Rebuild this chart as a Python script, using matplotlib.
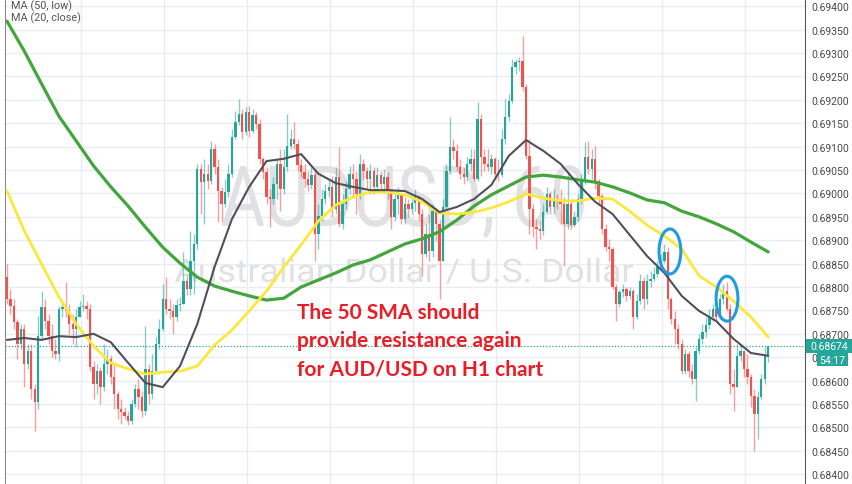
import numpy as np
import matplotlib
matplotlib.use("Agg")
import matplotlib.pyplot as plt
from matplotlib.patches import Ellipse, Rectangle, PathPatch
from matplotlib.textpath import TextPath
from matplotlib.font_manager import FontProperties
from matplotlib.transforms import Affine2D

# ---------------- data (AUD/USD, H1) ----------------
first_open = 0.68821
close = [0.68774, 0.68759, 0.68725, 0.68678, 0.68710, 0.68635, 0.68663, 0.68582, 0.68554, 0.68695,
         0.68757, 0.68727, 0.68695, 0.68663, 0.68657, 0.68753, 0.68757, 0.68749, 0.68721, 0.68710,
         0.68736, 0.68757, 0.68759, 0.68753, 0.68629, 0.68593, 0.68620, 0.68586, 0.68635, 0.68646,
         0.68608, 0.68571, 0.68539, 0.68533, 0.68524, 0.68514, 0.68550, 0.68582, 0.68565, 0.68535,
         0.68625, 0.68571, 0.68620, 0.68678, 0.68710, 0.68774, 0.68753, 0.68749, 0.68736, 0.68762,
         0.68764, 0.68813, 0.68796, 0.68856, 0.68892, 0.69052, 0.69024, 0.69042, 0.69027, 0.69095,
         0.69056, 0.69005, 0.68977, 0.69003, 0.69042, 0.69121, 0.69153, 0.69170, 0.69131, 0.69174,
         0.69133, 0.69168, 0.69148, 0.69074, 0.69046, 0.68992, 0.68988, 0.69020, 0.69063, 0.69009,
         0.69056, 0.69101, 0.69116, 0.69106, 0.69061, 0.69046, 0.69031, 0.69018, 0.69039, 0.68913,
         0.68952, 0.68988, 0.69005, 0.69014, 0.68967, 0.69035, 0.68935, 0.68977, 0.69009, 0.69042,
         0.69031, 0.68999, 0.69063, 0.69048, 0.69031, 0.69048, 0.69014, 0.69039, 0.69020, 0.69035,
         0.69003, 0.68950, 0.68988, 0.68997, 0.68945, 0.68977, 0.68967, 0.68980, 0.68992, 0.68956,
         0.68871, 0.68913, 0.68877, 0.68962, 0.68935, 0.68856, 0.68971, 0.69048, 0.69099, 0.69091,
         0.69056, 0.69042, 0.69035, 0.69063, 0.69074, 0.69031, 0.69159, 0.69078, 0.69063, 0.69056,
         0.69074, 0.69042, 0.69039, 0.69116, 0.69163, 0.69197, 0.69270, 0.69281, 0.69283, 0.69227,
         0.69080, 0.68967, 0.68928, 0.68924, 0.68920, 0.68960, 0.68999, 0.68971, 0.68988, 0.68984,
         0.68977, 0.68935, 0.68977, 0.68932, 0.68950, 0.68988, 0.69031, 0.69078, 0.69052, 0.69074,
         0.69027, 0.68994, 0.68924, 0.68885, 0.68881, 0.68800, 0.68764, 0.68789, 0.68796, 0.68781,
         0.68791, 0.68736, 0.68770, 0.68813, 0.68774, 0.68813, 0.68817, 0.68828, 0.68843, 0.68856,
         0.68875, 0.68774, 0.68732, 0.68710, 0.68678, 0.68620, 0.68657, 0.68620, 0.68603, 0.68663,
         0.68689, 0.68704, 0.68719, 0.68736, 0.68753, 0.68736, 0.68774, 0.68791, 0.68753, 0.68593,
         0.68586, 0.68653, 0.68663, 0.68625, 0.68608, 0.68567, 0.68529, 0.68565, 0.68603, 0.68653,
         0.68674]
high = [0.68849, 0.68796, 0.68774, 0.68732, 0.68721, 0.68721, 0.68678, 0.68678, 0.68593, 0.68738,
        0.68791, 0.68774, 0.68742, 0.68721, 0.68689, 0.68759, 0.68770, 0.68811, 0.68764, 0.68742,
        0.68753, 0.68770, 0.68785, 0.68770, 0.68764, 0.68642, 0.68635, 0.68629, 0.68678, 0.68668,
        0.68655, 0.68635, 0.68578, 0.68561, 0.68544, 0.68535, 0.68561, 0.68593, 0.68603, 0.68578,
        0.68717, 0.68635, 0.68657, 0.68693, 0.68732, 0.68806, 0.68821, 0.68774, 0.68764, 0.68774,
        0.68779, 0.68875, 0.68826, 0.68920, 0.68913, 0.69063, 0.69063, 0.69074, 0.69063, 0.69112,
        0.69106, 0.69074, 0.69014, 0.69031, 0.69063, 0.69138, 0.69176, 0.69202, 0.69180, 0.69185,
        0.69187, 0.69180, 0.69174, 0.69159, 0.69078, 0.69056, 0.69009, 0.69035, 0.69074, 0.69095,
        0.69095, 0.69170, 0.69138, 0.69153, 0.69116, 0.69074, 0.69063, 0.69048, 0.69056, 0.69052,
        0.68977, 0.69009, 0.69020, 0.69031, 0.69037, 0.69056, 0.69099, 0.68999, 0.69027, 0.69059,
        0.69063, 0.69048, 0.69084, 0.69074, 0.69056, 0.69063, 0.69056, 0.69056, 0.69048, 0.69052,
        0.69046, 0.69009, 0.68999, 0.69014, 0.68999, 0.68992, 0.68988, 0.68997, 0.69009, 0.68997,
        0.68967, 0.68935, 0.68956, 0.68977, 0.68971, 0.68945, 0.68988, 0.69063, 0.69163, 0.69116,
        0.69106, 0.69074, 0.69056, 0.69078, 0.69095, 0.69095, 0.69195, 0.69170, 0.69095, 0.69095,
        0.69084, 0.69078, 0.69074, 0.69138, 0.69202, 0.69212, 0.69287, 0.69287, 0.69292, 0.69336,
        0.69234, 0.69116, 0.68977, 0.68945, 0.68941, 0.68977, 0.69014, 0.69005, 0.69009, 0.68999,
        0.69009, 0.68992, 0.69046, 0.68988, 0.68962, 0.68999, 0.69042, 0.69110, 0.69112, 0.69095,
        0.69101, 0.69031, 0.68999, 0.68935, 0.68903, 0.68885, 0.68806, 0.68796, 0.68806, 0.68800,
        0.68800, 0.68796, 0.68785, 0.68828, 0.68821, 0.68828, 0.68834, 0.68843, 0.68856, 0.68871,
        0.68892, 0.68885, 0.68779, 0.68749, 0.68721, 0.68689, 0.68668, 0.68663, 0.68635, 0.68672,
        0.68700, 0.68721, 0.68736, 0.68753, 0.68764, 0.68764, 0.68785, 0.68806, 0.68811, 0.68764,
        0.68625, 0.68678, 0.68676, 0.68657, 0.68657, 0.68614, 0.68582, 0.68578, 0.68614, 0.68672,
        0.68674]
low = [0.68764, 0.68742, 0.68710, 0.68646, 0.68668, 0.68586, 0.68625, 0.68561, 0.68492, 0.68539,
       0.68689, 0.68710, 0.68678, 0.68650, 0.68646, 0.68642, 0.68736, 0.68736, 0.68700, 0.68678,
       0.68672, 0.68736, 0.68749, 0.68732, 0.68620, 0.68561, 0.68571, 0.68550, 0.68578, 0.68614,
       0.68593, 0.68539, 0.68518, 0.68507, 0.68518, 0.68505, 0.68507, 0.68544, 0.68539, 0.68522,
       0.68526, 0.68550, 0.68561, 0.68614, 0.68668, 0.68706, 0.68742, 0.68732, 0.68700, 0.68727,
       0.68749, 0.68764, 0.68783, 0.68783, 0.68785, 0.68881, 0.68956, 0.68935, 0.69009, 0.69020,
       0.69042, 0.68939, 0.68939, 0.68971, 0.68992, 0.69035, 0.69116, 0.69146, 0.69116, 0.69125,
       0.69121, 0.69129, 0.69138, 0.69063, 0.69031, 0.68977, 0.68928, 0.68977, 0.68988, 0.68962,
       0.68999, 0.69048, 0.69095, 0.69095, 0.69048, 0.69035, 0.69014, 0.69005, 0.69009, 0.68856,
       0.68881, 0.68941, 0.68977, 0.68992, 0.68950, 0.68956, 0.68928, 0.68924, 0.68967, 0.68999,
       0.68994, 0.68956, 0.68988, 0.69031, 0.69009, 0.68999, 0.68999, 0.69009, 0.69005, 0.69009,
       0.68988, 0.68924, 0.68941, 0.68956, 0.68935, 0.68935, 0.68950, 0.68956, 0.68962, 0.68941,
       0.68824, 0.68864, 0.68856, 0.68864, 0.68898, 0.68774, 0.68856, 0.68967, 0.69042, 0.69074,
       0.69048, 0.69031, 0.69020, 0.69027, 0.69048, 0.69027, 0.69027, 0.69037, 0.69048, 0.69048,
       0.69042, 0.69031, 0.69027, 0.69035, 0.69106, 0.69155, 0.69193, 0.69255, 0.69262, 0.69219,
       0.69074, 0.68913, 0.68907, 0.68881, 0.68903, 0.68911, 0.68956, 0.68956, 0.68956, 0.68967,
       0.68935, 0.68845, 0.68924, 0.68924, 0.68928, 0.68941, 0.68977, 0.69020, 0.69042, 0.69031,
       0.69009, 0.68977, 0.68913, 0.68877, 0.68856, 0.68796, 0.68727, 0.68757, 0.68779, 0.68770,
       0.68774, 0.68710, 0.68732, 0.68764, 0.68753, 0.68764, 0.68800, 0.68813, 0.68821, 0.68838,
       0.68851, 0.68753, 0.68721, 0.68678, 0.68668, 0.68614, 0.68614, 0.68608, 0.68593, 0.68556,
       0.68657, 0.68678, 0.68693, 0.68710, 0.68727, 0.68727, 0.68732, 0.68764, 0.68749, 0.68571,
       0.68535, 0.68586, 0.68642, 0.68608, 0.68593, 0.68544, 0.68450, 0.68475, 0.68561, 0.68593,
       0.68640]

# moving averages read every 5 bars
ma_idx = list(range(0, 221, 5))
ma20_close = [0.68687, 0.68691, 0.68687, 0.68695, 0.68693, 0.68700, 0.68682, 0.68638, 0.68595, 0.68586,
              0.68631, 0.68721, 0.68843, 0.68945, 0.69014, 0.69069, 0.69074, 0.69084, 0.69042, 0.69022,
              0.69014, 0.69007, 0.69007, 0.69005, 0.68988, 0.68960, 0.68971, 0.68988, 0.69018, 0.69080,
              0.69114, 0.69091, 0.69063, 0.69020, 0.68982, 0.68956, 0.68911, 0.68866, 0.68830, 0.68781,
              0.68749, 0.68727, 0.68689, 0.68659, 0.68653]
ma50_low = [0.69005, 0.68920, 0.68849, 0.68779, 0.68721, 0.68674, 0.68638, 0.68625, 0.68614, 0.68618,
            0.68620, 0.68631, 0.68676, 0.68708, 0.68749, 0.68791, 0.68843, 0.68890, 0.68941, 0.68975,
            0.68992, 0.69003, 0.69003, 0.68997, 0.68982, 0.68958, 0.68956, 0.68960, 0.68969, 0.68982,
            0.68999, 0.68990, 0.68984, 0.68984, 0.68990, 0.68988, 0.68962, 0.68932, 0.68909, 0.68881,
            0.68824, 0.68800, 0.68770, 0.68736, 0.68693]
ma100 = [0.69368, 0.69304, 0.69234, 0.69165, 0.69112, 0.69059, 0.69014, 0.68973, 0.68928, 0.68885,
         0.68851, 0.68821, 0.68802, 0.68791, 0.68781, 0.68772, 0.68776, 0.68800, 0.68815, 0.68830,
         0.68847, 0.68858, 0.68875, 0.68892, 0.68903, 0.68918, 0.68943, 0.68973, 0.68997, 0.69016,
         0.69035, 0.69039, 0.69035, 0.69029, 0.69024, 0.69014, 0.69001, 0.68986, 0.68980, 0.68962,
         0.68950, 0.68935, 0.68918, 0.68896, 0.68875]

price_ticks = [0.68400, 0.68450, 0.68500, 0.68550, 0.68600, 0.68650, 0.68700, 0.68750, 0.68800,
               0.68850, 0.68900, 0.68950, 0.69000, 0.69050, 0.69100, 0.69150, 0.69200, 0.69250,
               0.69300, 0.69350, 0.69400]
last_price = 0.68674
countdown = "54:17"
legend_lines = ["MA (50, low)", "MA (20, close)"]
watermark_symbol = "AUDUSD, 60"
watermark_name = "Australian Dollar / U.S. Dollar"
note_lines = ["The 50 SMA should", "provide resistance again", "for AUD/USD on H1 chart"]
# highlighted bars (index of rejection candles, price level)
highlights = [(191.6, 0.68876), (208.1, 0.68775)]

# ---------------- figure ----------------
W, H = 852, 485
fig = plt.figure(figsize=(W / 100, H / 100), dpi=100)
ax = fig.add_axes([5 / W, 0, 800 / W, 1])
ax.set_facecolor("white")

UP, DOWN = "#26a69a", "#ef5350"
n = len(close)
x = np.arange(n)
c = np.array(close)
o = np.array([first_open] + close[:-1])
hi = np.maximum(np.array(high), np.maximum(o, c))
lo = np.minimum(np.array(low), np.minimum(o, c))
up = c >= o
cols = np.where(up, UP, DOWN)

ax.vlines(x, lo, hi, colors=cols, linewidth=1.0, alpha=0.55, zorder=2)
body_bottom = np.minimum(o, c)
body_h = np.maximum(np.abs(c - o), 0.000025)
ax.bar(x, body_h, bottom=body_bottom, width=0.68, color=cols, linewidth=0, zorder=2.2)

ax.plot(ma_idx, ma100, color="#43a53c", lw=2.3, zorder=3, solid_capstyle="round")
ax.plot(ma_idx, ma50_low, color="#fbe83a", lw=2.0, zorder=3.1, solid_capstyle="round")
ax.plot(ma_idx, ma20_close, color="#50505a", lw=1.5, zorder=3.2, solid_capstyle="round")

ax.axhline(last_price, color=UP, lw=0.9, ls=(0, (1, 1.5)), zorder=1.5)

for (ci, cp) in highlights:
    ax.add_patch(Ellipse((ci, cp), 6.3, 0.00096, fill=False, edgecolor="#1e9be2", lw=2.2, zorder=4))

# axes limits: pixel y -> price ; 0.688 at y=288, 46800 px per unit
ax.set_ylim(0.688 - 197 / 46800, 0.688 + 288 / 46800)
ax.set_xlim((5 - 7) / 3.46, (805 - 7) / 3.46)

# grid
ax.set_axisbelow(True)
ax.set_yticks(price_ticks)
ax.set_yticklabels(["%.5f" % p for p in price_ticks])
day_lines = [21.5 + 23.96 * k for k in range(9)]
ax.set_xticks(day_lines)
ax.set_xticklabels([])
ax.grid(True, color="#e7edf2", lw=1.0)
ax.yaxis.tick_right()
ax.tick_params(axis="y", length=0, pad=4.5, labelsize=7.5, labelcolor="#4a4a4a")
for lab in ax.get_yticklabels():
    lab.set_fontfamily("Roboto")
ax.tick_params(axis="x", length=0)
for s in ["top", "bottom"]:
    ax.spines[s].set_visible(False)
ax.spines["right"].set_color("#5a5a5a")
ax.spines["left"].set_color("#8a8a8a")


# watermark drawn as scaled text paths (behind candles)
def fitted_text(s, x0, x1, baseline, cap, family, color, z):
    fp = FontProperties(family=family)
    tp = TextPath((0, 0), s, size=1, prop=fp)
    ext = tp.get_extents()
    caph = TextPath((0, 0), "H", size=1, prop=fp).get_extents().height
    sx = (x1 - x0) / ext.width
    sy = cap / caph
    tr = Affine2D().translate(-ext.x0, 0).scale(sx, sy).translate(x0, H - baseline)
    ax.add_patch(PathPatch(tp, transform=tr, facecolor=color, edgecolor="none", zorder=z, clip_on=False))


fitted_text(watermark_symbol, 222, 584, 227, 60, "Roboto", "#e1e1e3", 0.8)
fitted_text(watermark_name, 175, 633, 283, 23, "Roboto", "#e1e1e3", 0.8)

# legend text
fig.text(11 / W, 1 - 9.5 / H, legend_lines[0], fontsize=7.8, color="#555555", family="Roboto", va="baseline")
fig.text(11 / W, 1 - 21.5 / H, legend_lines[1], fontsize=7.8, color="#555555", family="Roboto", va="baseline")

# annotation
for k, line in enumerate(note_lines):
    fig.text(297 / W, 1 - (319 + 28 * k) / H, line, fontsize=15, color="#ec1c24",
             family="Lato", weight="bold", va="baseline")

# price boxes on the right scale
fig.add_artist(Rectangle((806 / W, 1 - 353.5 / H), 46 / W, 13.5 / H, transform=fig.transFigure,
                         facecolor=UP, edgecolor="none", zorder=5))
fig.text(810 / W, 1 - 347 / H, "%.5f" % last_price, fontsize=7.5, color="white", family="Roboto",
         va="center", zorder=6)
fig.add_artist(Rectangle((817 / W, 1 - 366.5 / H), 31 / W, 12.5 / H, transform=fig.transFigure,
                         facecolor=UP, edgecolor="none", zorder=5))
fig.text(832.5 / W, 1 - 360.5 / H, countdown, fontsize=7.5, color="white", family="Roboto",
         va="center", ha="center", zorder=6)

fig.savefig("out.png", dpi=100)
